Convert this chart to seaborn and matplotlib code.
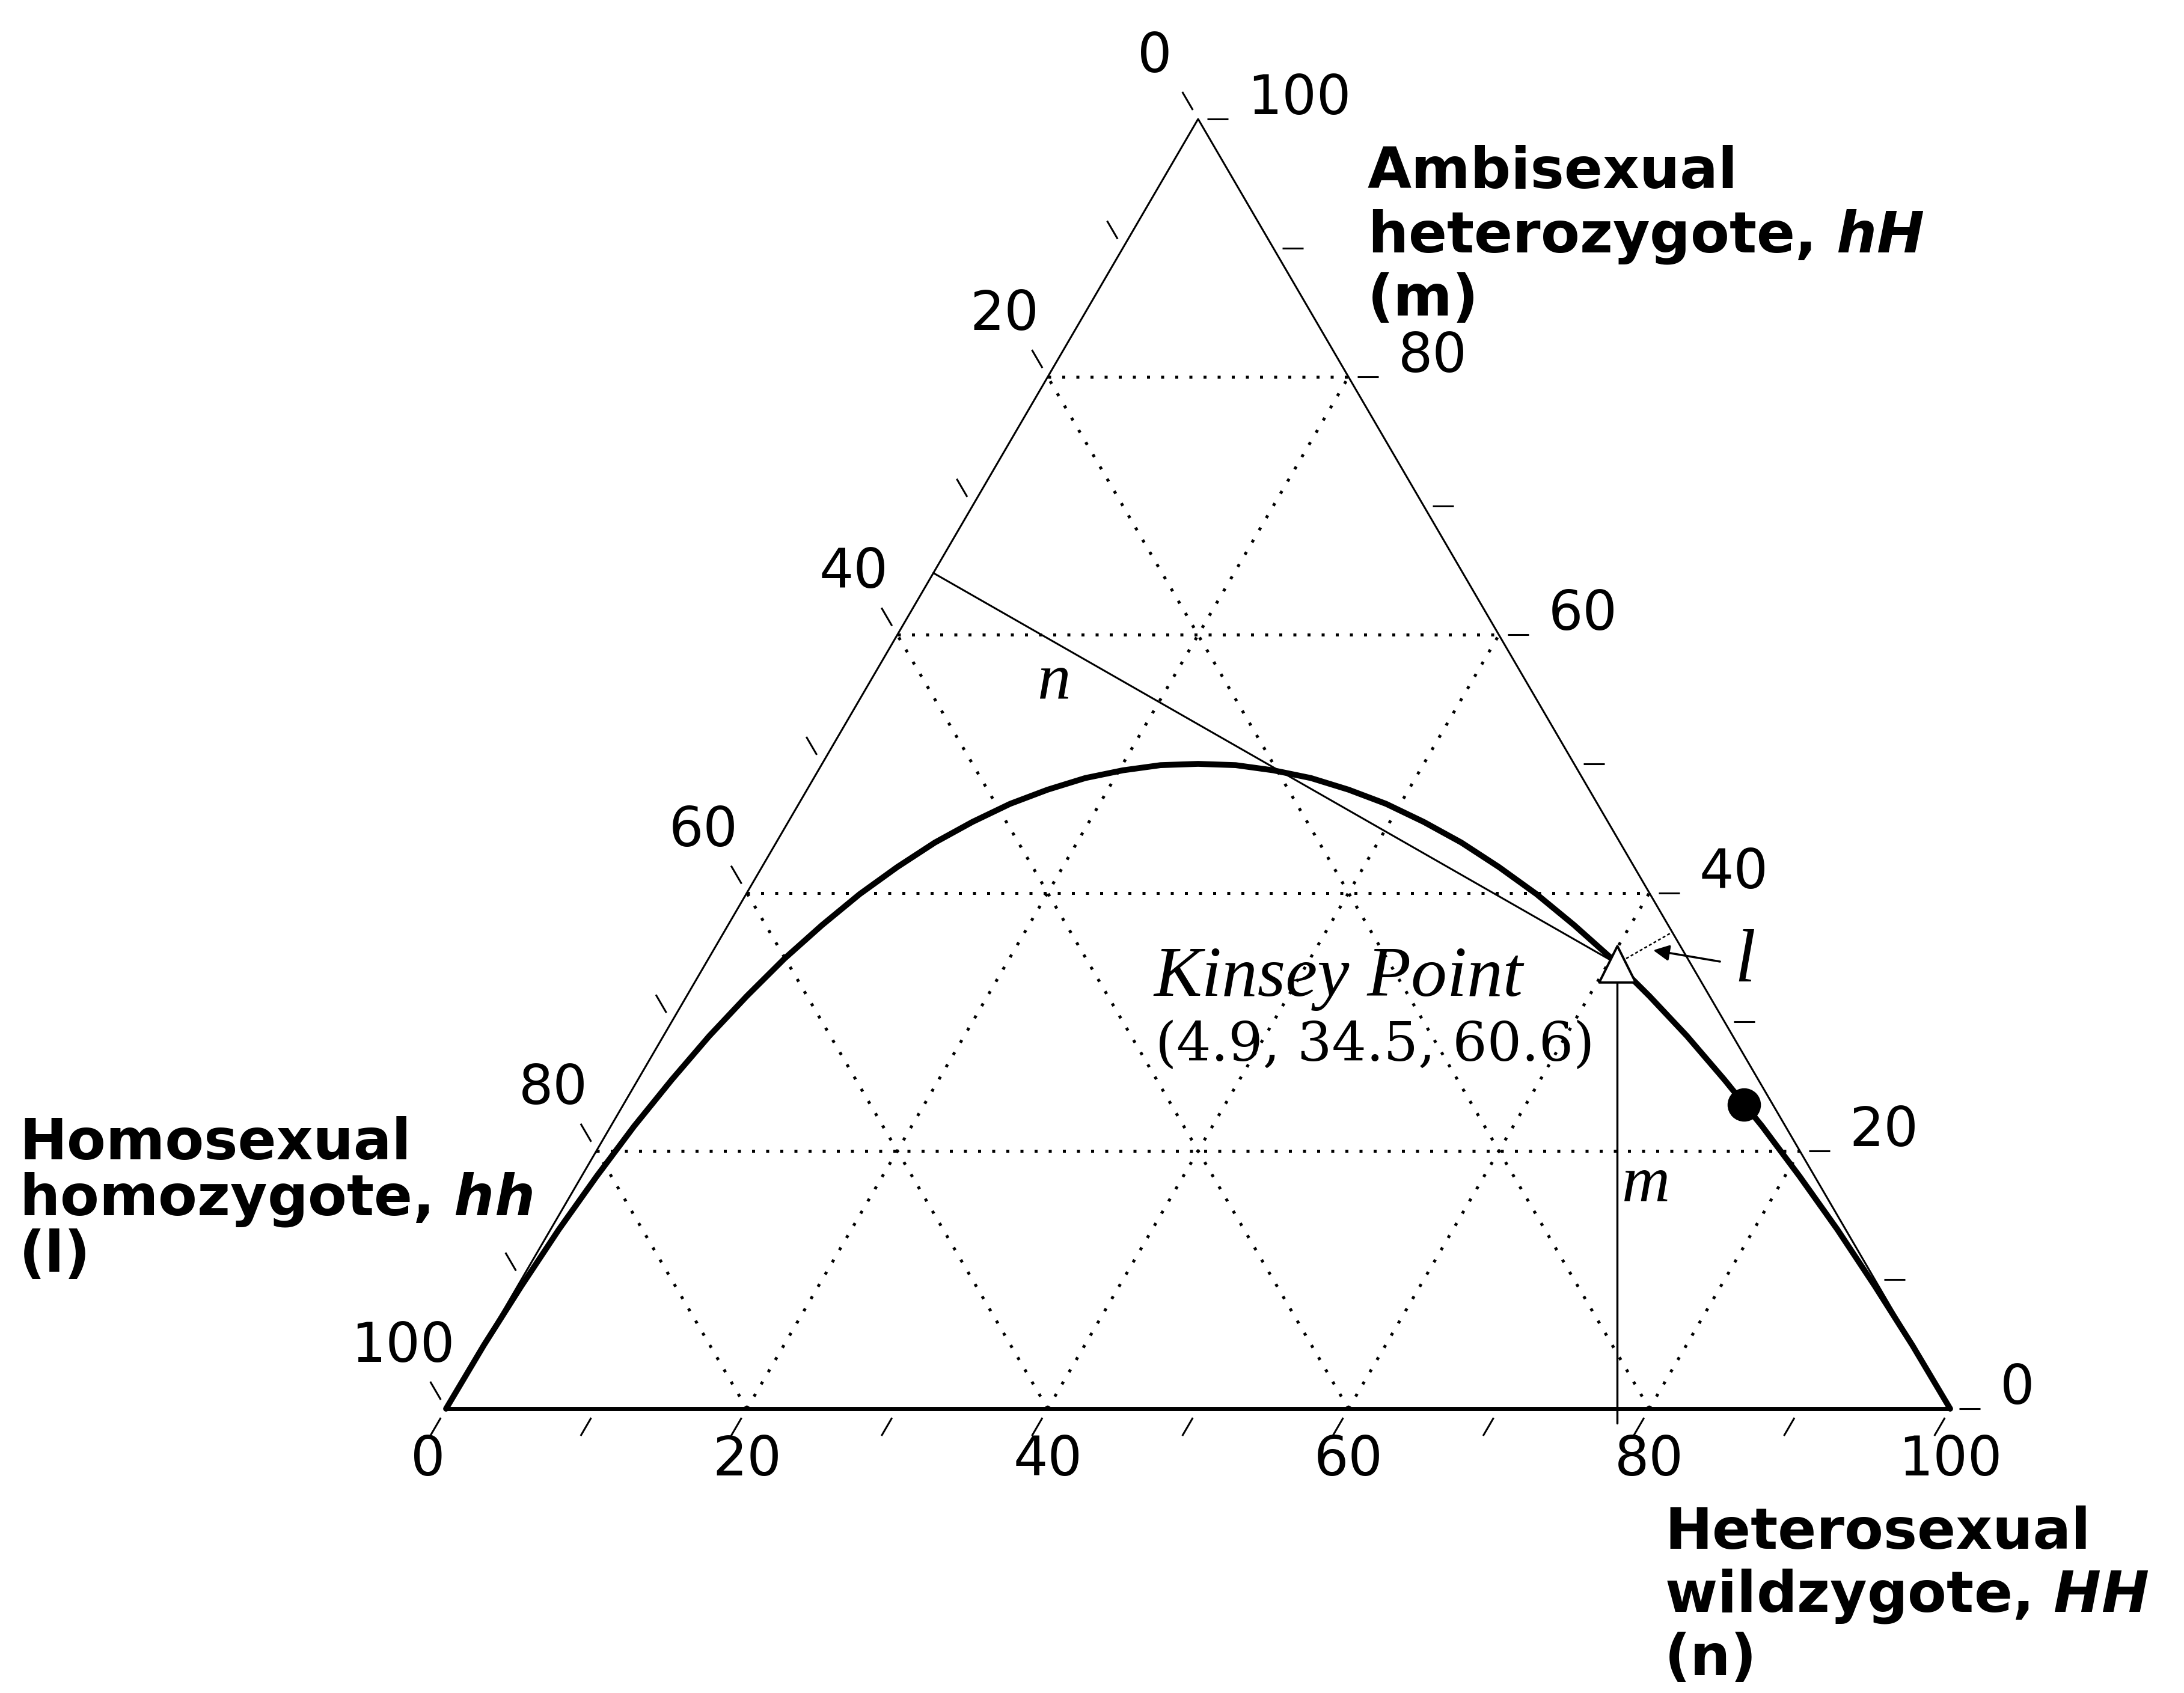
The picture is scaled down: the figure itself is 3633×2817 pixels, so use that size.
import matplotlib
matplotlib.use("Agg")
import matplotlib.pyplot as plt
import seaborn as sns
import pandas as pd

# genotype shares in percent, ordered (hh, hH, HH) = (l, m, n)
kinsey_point = [4.9, 34.5, 60.6]
dot_point = [1.9, 23.6, 74.5]   # black dot further down the curve

# Hardy-Weinberg parabola:
# share of the H allele (= position along the base) and share of hH
hw_p = [0, 0.025, 0.05, 0.075, 0.1, 0.125, 0.15, 0.175, 0.2, 0.225, 0.25,
        0.275, 0.3, 0.325, 0.35, 0.375, 0.4, 0.425, 0.45, 0.475, 0.5,
        0.525, 0.55, 0.575, 0.6, 0.625, 0.65, 0.675, 0.7, 0.725, 0.75,
        0.775, 0.8, 0.825, 0.85, 0.875, 0.9, 0.925, 0.95, 0.975, 1]
hw_hH = [0, 0.049, 0.095, 0.139, 0.180, 0.219, 0.255, 0.289, 0.320, 0.349,
         0.375, 0.399, 0.420, 0.439, 0.455, 0.469, 0.480, 0.489, 0.495,
         0.499, 0.500, 0.499, 0.495, 0.489, 0.480, 0.469, 0.455, 0.439,
         0.420, 0.399, 0.375, 0.349, 0.320, 0.289, 0.255, 0.219, 0.180,
         0.139, 0.095, 0.049, 0]

tick_labels = [0, 20, 40, 60, 80, 100]
grid_vals = [20, 40, 60, 80]
tick_marks = [0, 10, 20, 30, 40, 50, 60, 70, 80, 90, 100]


def tern(l, m, n):
    # ternary (l, m, n) -> plane; base runs l-vertex -> n-vertex, m on top
    tot = float(l + m + n)
    return (n + m / 2.0) / tot, m / tot


sns.set_style("white")
plt.rcParams["mathtext.fontset"] = "custom"
plt.rcParams["mathtext.it"] = "DejaVu Sans:italic:bold"

W, H = 3633, 2817
fig = plt.figure(figsize=(W / 100, H / 100), dpi=100)
fig.patch.set_facecolor("white")
# triangle corners sit at px (742, 2344), (3244, 2344) and top at y=198
ax = fig.add_axes([742 / W, 1 - 2344 / H, 2502 / W, 2146 / H])

dot_style = dict(color="black", lw=3.6, linestyle=(0, (1, 3.7)),
                 clip_on=False, zorder=1)
# dotted grid
for v in grid_vals:
    a, b = tern(100 - v, v, 0), tern(0, v, 100 - v)
    ax.plot([a[0], b[0]], [a[1], b[1]], **dot_style)
    a, b = tern(100 - v, 0, v), tern(0, 100 - v, v)
    ax.plot([a[0], b[0]], [a[1], b[1]], **dot_style)
    a, b = tern(v, 0, 100 - v), tern(v, 100 - v, 0)
    ax.plot([a[0], b[0]], [a[1], b[1]], **dot_style)

# triangle edges
L, M, N = tern(1, 0, 0), tern(0, 1, 0), tern(0, 0, 1)
ax.plot([L[0], N[0]], [L[1], N[1]], color="black", lw=5, clip_on=False,
        solid_capstyle="butt", zorder=2)
ax.plot([L[0], M[0], N[0]], [L[1], M[1], N[1]], color="black", lw=2.2,
        clip_on=False, zorder=2)

# tick marks: short extensions of the grid directions outside each edge
s1, s2 = 0.007, 0.021
tk = dict(color="black", lw=2.2, clip_on=False, solid_capstyle="butt")
for v in tick_marks:
    x, y = tern(100 - v, 0, v)
    ax.plot([x - s1 / 2, x - s2 / 2], [y - s1, y - s2], **tk)
    x, y = tern(v, 100 - v, 0)
    ax.plot([x - s1 / 2, x - s2 / 2], [y + s1, y + s2], **tk)
    x, y = tern(0, v, 100 - v)
    ax.plot([x + 0.006, x + 0.02], [y, y], **tk)

# tick labels
tfont = dict(fontsize=65, family="DejaVu Sans", color="black")
for v in tick_labels:
    x, y = tern(100 - v, 0, v)
    dx = -0.012 if v == 0 else 0
    ax.text(x + dx, y - 0.040, str(v), ha="center", va="center", **tfont)
    x, y = tern(0, v, 100 - v)
    ax.text(x + 0.033, y + 0.0154, str(v), ha="left", va="center", **tfont)
    x, y = tern(v, 100 - v, 0)
    ax.text(x - 0.0288, y + 0.048, str(v), ha="center", va="center", **tfont)

# Hardy-Weinberg curve
curve = pd.DataFrame({"p": hw_p, "hH": hw_hH})
sns.lineplot(data=curve, x="p", y="hH", sort=False, estimator=None,
             color="black", lw=7, ax=ax, clip_on=False, zorder=3)

# construction lines for the Kinsey point
kl, km, kn = kinsey_point
kx, ky = tern(kl, km, kn)
ax.plot([kx, kx], [-0.011, ky], color="black", lw=2.5, clip_on=False,
        zorder=4)
fx, fy = tern(kl + kn / 2, km + kn / 2, 0)
ax.plot([fx, kx], [fy, ky], color="black", lw=2.2, zorder=4)
gx, gy = tern(0, km + kl / 2, kn + kl / 2)
ax.plot([kx, gx], [ky, gy], color="black", lw=1.8, linestyle=(0, (2, 1.5)),
        zorder=4)

# markers
pts = pd.DataFrame({
    "x": [tern(*kinsey_point)[0], tern(*dot_point)[0]],
    "y": [tern(*kinsey_point)[1], tern(*dot_point)[1]],
    "kind": ["kinsey", "dot"],
})
sns.scatterplot(data=pts[pts["kind"] == "dot"], x="x", y="y", s=1600,
                color="black", linewidth=0, ax=ax, zorder=6, clip_on=False)
ax.scatter(pts.loc[pts["kind"] == "kinsey", "x"],
           pts.loc[pts["kind"] == "kinsey", "y"], s=1900, marker="^",
           facecolor="white", edgecolor="black", linewidth=2.8, zorder=7,
           clip_on=False)

# arrow pointing at the small gap l
ax.annotate("", xy=(0.8026, 0.3555), xytext=(0.847, 0.3467),
            arrowprops=dict(arrowstyle="-|>", color="black", lw=2.5,
                            mutation_scale=40, shrinkA=0, shrinkB=0),
            zorder=6)

ax.set_xlim(0, 1)
ax.set_ylim(0, 1)
ax.axis("off")


def ftxt(px, py, s, **kw):
    fig.text(px / W, 1 - py / H, s, va="baseline", ha="left", **kw)


serif_it = dict(family="Liberation Serif", style="italic", color="black")
ftxt(1919, 1657, "Kinsey Point", fontsize=86, **serif_it)
ftxt(1922, 1765, "(%.1f, %.1f, %.1f)" % (kl, km, kn), fontsize=65,
     family="DejaVu Serif", color="black")
ftxt(1725, 1162, "n", fontsize=80, **serif_it)
ftxt(2698, 1998, "m", fontsize=80, **serif_it)
ftxt(2885, 1633, "l", fontsize=90, **serif_it)

lab = dict(fontsize=68, family="DejaVu Sans", fontweight="bold",
           color="black")
ftxt(2275, 313, "Ambisexual", **lab)
ftxt(2275, 420, "heterozygote, $hH$", **lab)
ftxt(2275, 525, "(m)", **lab)

ftxt(32, 1929, "Homosexual", **lab)
ftxt(32, 2022, "homozygote, $hh$", **lab)
ftxt(32, 2116, "(l)", **lab)

ftxt(2769, 2577, "Heterosexual", **lab)
ftxt(2769, 2682, "wildzygote, $HH$", **lab)
ftxt(2769, 2787, "(n)", **lab)

fig.savefig("out.png", dpi=100, facecolor="white")
